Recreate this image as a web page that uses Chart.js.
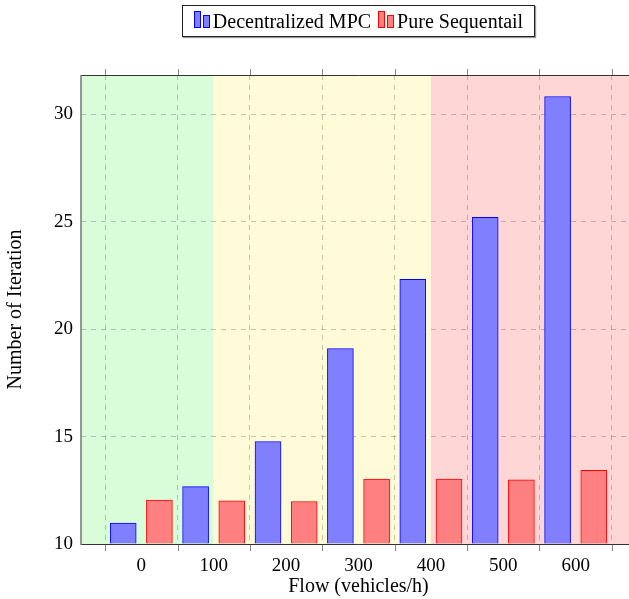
<!DOCTYPE html>
<html>
<head>
<meta charset="utf-8">
<script src="https://cdn.jsdelivr.net/npm/chart.js@4"></script>
<style>
  html, body { margin: 0; padding: 0; background: #fff; overflow: hidden; }
  #wrap { position: relative; width: 629px; height: 599px; overflow: hidden; }
  #chart { position: absolute; left: 0; top: 0; }
  #legend {
    position: absolute; left: 182px; top: 5px; width: 353px; height: 32px;
    box-sizing: border-box; border: 1px solid #222; background: #fff;
    box-shadow: 1px 1px 1px #999;
    display: flex; align-items: center; justify-content: center;
    font: 20px "Liberation Serif", serif; color: #000;
  }
  .icon { display: flex; align-items: flex-end; gap: 2px; height: 17px; margin: 0 3px 4px 0; }
  .icon span { display: block; width: 5px; box-sizing: content-box; }
  .icon span:first-child { height: 15px; }
  .icon span:last-child { height: 11px; }
  .blue span { background: rgb(128,128,255); border: 1px solid #00f; }
  .red span { background: rgb(255,128,128); border: 1px solid #f00; }
  .item { display: flex; align-items: center; }
  .item + .item { margin-left: 7px; }
</style>
</head>
<body>
<div id="wrap">
  <canvas id="chart" width="636" height="599"></canvas>
  <div id="legend">
    <div class="item"><div class="icon blue"><span></span><span></span></div>Decentralized MPC</div>
    <div class="item"><div class="icon red"><span></span><span></span></div>Pure Sequentail</div>
  </div>
</div>
<script>
// flow levels (vehicles/h)
let flows = [0, 100, 200, 300, 400, 500, 600];
let decentralized = [10.97, 12.67, 14.77, 19.1, 22.32, 25.2, 30.83];
let sequential = [12.05, 12.01, 11.98, 13.02, 13.02, 12.99, 13.43];
let yTicks = [10, 15, 20, 25, 30];
let xGridTicks = [-50, 50, 150, 250, 350, 450, 550, 650];

// traffic zones: low / medium / high
let zones = [
    { from: -83.3, to: 100, color: 'rgb(217,253,217)' },
    { from: 100, to: 400, color: 'rgb(255,251,217)' },
    { from: 400, to: 683.3, color: 'rgb(255,214,214)' },
];

let font = { family: '"Liberation Serif", serif', size: 19 };

let zonePlugin = {
    id: 'zones',
    beforeDraw(chart) {
        let ctx = chart.ctx;
        let area = chart.chartArea;
        let x = chart.scales.x;
        ctx.save();
        zones.forEach(z => {
            let x0 = Math.max(x.getPixelForValue(z.from), area.left);
            let x1 = Math.min(x.getPixelForValue(z.to), area.right);
            ctx.fillStyle = z.color;
            ctx.fillRect(x0, area.top, x1 - x0, area.bottom - area.top);
        });
        ctx.restore();
    },
    afterDraw(chart) {
        let ctx = chart.ctx;
        let area = chart.chartArea;
        let x = chart.scales.x;
        ctx.save();
        // outward tick marks on top and bottom
        ctx.strokeStyle = '#888';
        ctx.lineWidth = 1;
        xGridTicks.forEach(v => {
            let px = Math.round(x.getPixelForValue(v)) + 0.5;
            ctx.beginPath();
            ctx.moveTo(px, area.top - 6);
            ctx.lineTo(px, area.top);
            ctx.moveTo(px, area.bottom);
            ctx.lineTo(px, area.bottom + 7);
            ctx.stroke();
        });
        // axis frame
        ctx.strokeStyle = '#333';
        ctx.beginPath();
        ctx.moveTo(area.left, area.top + 0.5);
        ctx.lineTo(area.right, area.top + 0.5);
        ctx.moveTo(area.left, area.bottom + 0.5);
        ctx.lineTo(area.right, area.bottom + 0.5);
        ctx.stroke();
        ctx.strokeStyle = '#777';
        ctx.lineWidth = 1.5;
        ctx.beginPath();
        ctx.moveTo(area.left, area.top);
        ctx.lineTo(area.left, area.bottom + 1);
        ctx.stroke();
        ctx.restore();
    }
};

new Chart(document.getElementById('chart'), {
    type: 'bar',
    data: {
        datasets: [{
            label: 'Decentralized MPC',
            data: flows.map((f, i) => ({ x: f - 25, y: decentralized[i] })),
            backgroundColor: 'rgb(128,128,255)',
            borderColor: '#0000ff',
            borderWidth: 1,
        }, {
            label: 'Pure Sequentail',
            data: flows.map((f, i) => ({ x: f + 25, y: sequential[i] })),
            backgroundColor: 'rgb(255,128,128)',
            borderColor: '#ff0000',
            borderWidth: 1,
        }],
    },
    options: {
        responsive: false,
        animation: false,
        grouped: false,
        barThickness: 26,
        base: 10,
        layout: { padding: { top: 75, right: 0, left: 0, bottom: 0 } },
        plugins: {
            legend: { display: false },
            tooltip: { enabled: false },
        },
        scales: {
            x: {
                type: 'linear',
                offset: false,
                min: -83.3,
                max: 683.3,
                afterFit: s => { s.height = 55; },
                afterBuildTicks: s => {
                    s.ticks = [-50, 0, 50, 100, 150, 200, 250, 300, 350, 400, 450, 500, 550, 600, 650].map(v => ({ value: v }));
                },
                ticks: {
                    autoSkip: false,
                    maxRotation: 0,
                    padding: 11,
                    color: '#000',
                    font: font,
                    callback: v => (flows.includes(v) ? String(v) : ''),
                },
                grid: {
                    offset: false,
                    drawTicks: false,
                    color: c => (c.tick && xGridTicks.includes(c.tick.value) ? 'rgba(0,0,0,0.22)' : 'rgba(0,0,0,0)'),
                },
                border: { display: false, dash: [5, 5] },
                title: {
                    display: true,
                    text: 'Flow (vehicles/h)',
                    color: '#000',
                    font: { family: '"Liberation Serif", serif', size: 20 },
                    padding: { top: 0, bottom: 0 },
                },
            },
            y: {
                min: 10,
                max: 31.83,
                afterFit: s => { s.width = 81; },
                afterBuildTicks: s => { s.ticks = yTicks.map(v => ({ value: v })); },
                ticks: {
                    padding: 8,
                    color: '#000',
                    font: font,
                },
                grid: {
                    drawTicks: false,
                    color: 'rgba(0,0,0,0.22)',
                },
                border: { display: false, dash: [5, 5] },
                title: {
                    display: true,
                    text: 'Number of Iteration',
                    color: '#000',
                    font: { family: '"Liberation Serif", serif', size: 20 },
                    padding: { top: 4, bottom: 0 },
                },
            },
        },
    },
    plugins: [zonePlugin],
});
</script>
</body>
</html>
